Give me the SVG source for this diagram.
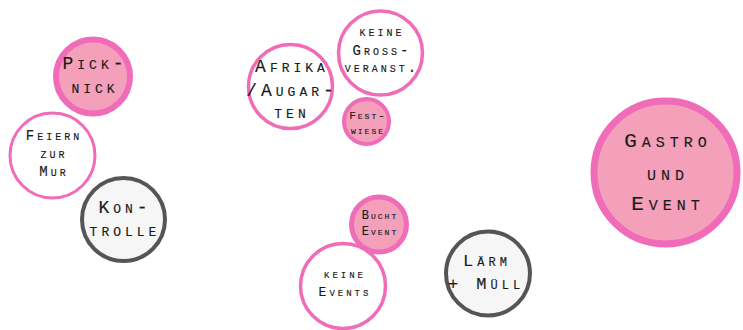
<svg xmlns="http://www.w3.org/2000/svg" width="743" height="330" viewBox="0 0 743 330">
<style>
.pink{fill:#f4a0ba;stroke:#f06bb8}
.white{fill:#ffffff;stroke:#f06bb8}
.gray{fill:#f6f6f6;stroke:#555558}
text{font-family:"Liberation Mono","DejaVu Sans Mono",monospace;font-variant:small-caps;fill:#1a1a1a;stroke:#1a1a1a;stroke-width:0.15;text-anchor:middle}
</style>
<rect width="743" height="330" fill="#ffffff"/>
<g id="picknick">
<circle class="pink" cx="93" cy="76.5" r="37" stroke-width="6"/>
<text x="95" y="69" font-size="18" letter-spacing="4">Pick-</text>
<text x="95" y="93" font-size="18" letter-spacing="4">nick</text>
</g>
<g id="feiern">
<circle class="white" cx="52.5" cy="155.5" r="42.5" stroke-width="3"/>
<text x="54" y="140" font-size="14" letter-spacing="3">Feiern</text>
<text x="54" y="158" font-size="14" letter-spacing="3">zur</text>
<text x="54" y="176" font-size="14" letter-spacing="3">Mur</text>
</g>
<g id="kontrolle">
<circle class="gray" cx="123.5" cy="219.5" r="41.5" stroke-width="4"/>
<text x="125" y="213" font-size="18" letter-spacing="4">Kon-</text>
<text x="125" y="236" font-size="18" letter-spacing="4">trolle</text>
</g>
<g id="afrika">
<circle class="white" cx="290.5" cy="86.5" r="42" stroke-width="3.5"/>
<text x="292" y="72" font-size="18" letter-spacing="4">Afrika</text>
<text x="292" y="96" font-size="18" letter-spacing="4">/Augar-</text>
<text x="292" y="118" font-size="18" letter-spacing="4">ten</text>
</g>
<g id="grossveranst">
<circle class="white" cx="380.5" cy="53" r="42" stroke-width="3.5"/>
<text x="382" y="36" font-size="14" letter-spacing="3">keine</text>
<text x="382" y="55" font-size="14" letter-spacing="3">Gross-</text>
<text x="382" y="72" font-size="14" letter-spacing="3">veranst.</text>
</g>
<g id="festwiese">
<circle class="pink" cx="366.5" cy="121.5" r="22.5" stroke-width="4"/>
<text x="368" y="119" font-size="11" letter-spacing="2">Fest-</text>
<text x="368" y="134" font-size="11" letter-spacing="2">wiese</text>
</g>
<g id="buchtevent">
<circle class="pink" cx="379" cy="224.5" r="27.5" stroke-width="5"/>
<text x="380" y="219" font-size="12" letter-spacing="2">Bucht</text>
<text x="380" y="235" font-size="12" letter-spacing="2">Event</text>
</g>
<g id="keineevents">
<circle class="white" cx="343" cy="286" r="42.5" stroke-width="3.5"/>
<text x="345" y="278" font-size="13" letter-spacing="3">keine</text>
<text x="345" y="296" font-size="13" letter-spacing="3">Events</text>
</g>
<g id="laerm">
<circle class="gray" cx="488" cy="273.5" r="42" stroke-width="4"/>
<text x="487" y="266" font-size="17" letter-spacing="4">Lärm</text>
<text x="486" y="289" font-size="17" letter-spacing="4">+ Müll</text>
</g>
<g id="gastro">
<circle class="pink" cx="665.5" cy="172.5" r="71.5" stroke-width="7"/>
<text x="668" y="147" font-size="21" letter-spacing="5">Gastro</text>
<text x="668" y="180" font-size="21" letter-spacing="5">und</text>
<text x="668" y="210" font-size="21" letter-spacing="5">Event</text>
</g>
<g id="connectors"/>
</svg>
